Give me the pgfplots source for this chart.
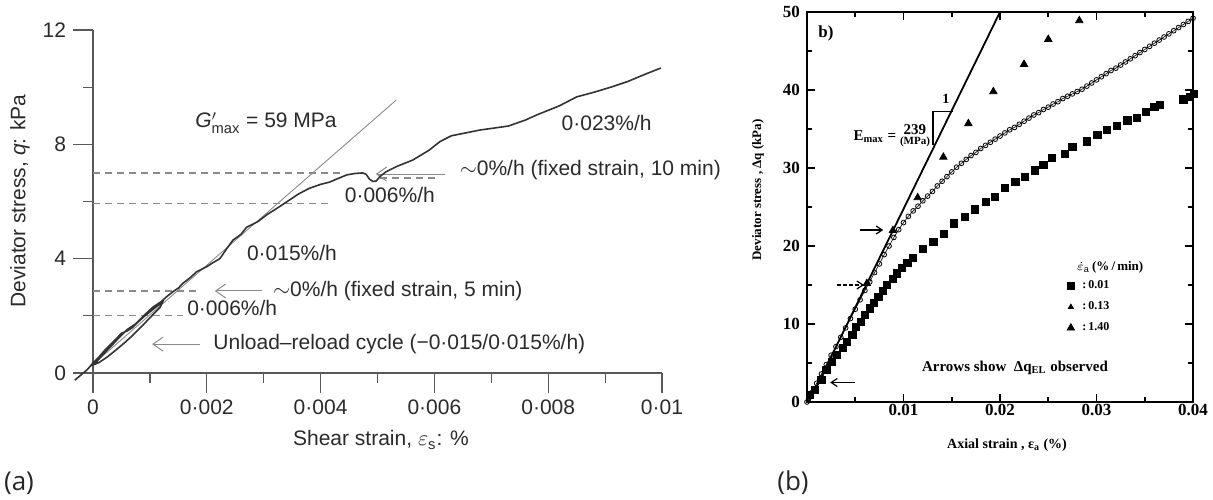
\documentclass[border=0pt]{standalone}
\usepackage{fontspec}
\setmainfont{Liberation Sans}
\newfontfamily\serifb{Liberation Serif}
\newfontfamily\lightf{Open Sans}
\usepackage{amsmath}
\usepackage{pgfplots}
\pgfplotsset{compat=1.18}
\usetikzlibrary{arrows.meta}
\definecolor{acol}{HTML}{333333}
\definecolor{dgray}{HTML}{8A8A8A}
\definecolor{tcol}{HTML}{2A2A2A}
\newcommand{\fa}{\fontsize{10.5}{12}\selectfont}
\newcommand{\fb}[1]{\serifb\bfseries\fontsize{#1}{#1}\selectfont}

\begin{document}
\begin{tikzpicture}
\useasboundingbox (0,0) rectangle (606.5pt,249.5pt);

% ---------------- panel (a)
\begin{axis}[
  at={(46.5pt,63pt)}, anchor=south west,
  width=284.5pt, height=171.5pt, scale only axis,
  xmin=0, xmax=0.01, ymin=0, ymax=12,
  clip=false,
  axis lines=left,
  axis line style={-, draw=black!65, line width=0.6pt},
  tick style={draw=black!65, line width=0.6pt},
  tick align=outside,
  major tick length=10pt, minor tick length=5pt,
  xtick={0,0.002,0.004,0.006,0.008,0.01},
  xticklabels={0,0·002,0·004,0·006,0·008,0·01},
  minor xtick={0.001,0.003,0.005,0.007,0.009},
  ytick={0,4,8,12}, yticklabels={0,4,8,12},
  minor ytick={2,6,10},
  scaled x ticks=false,
  ticklabel style={font=\fa, text=tcol},
]
% reference dashed lines
\addplot[dgray, line width=0.6pt, dash pattern=on 3.5pt off 2.5pt] coordinates {(0,7.0) (0.0044,7.0)};
\addplot[dgray, line width=0.6pt, dash pattern=on 3.5pt off 2.5pt] coordinates {(0,5.93) (0.0042,5.93)};
\addplot[dgray, line width=0.6pt, dash pattern=on 3.5pt off 2.5pt] coordinates {(0.00504,6.82) (0.00604,6.82)};
\addplot[dgray, line width=0.6pt, dash pattern=on 3.5pt off 2.5pt] coordinates {(0,2.87) (0.00188,2.87)};
\addplot[dgray, line width=0.6pt, dash pattern=on 3.5pt off 2.5pt] coordinates {(0,2.0) (0.00158,2.0)};
% G'max line
\addplot[dgray, line width=0.45pt] coordinates {(0,0.3) (0.00533,9.55)};
% arrows
\addplot[dgray, line width=0.5pt, -{Straight Barb[length=5pt,width=7pt]}] coordinates {(0.00619,6.96) (0.00497,6.96)};
\addplot[dgray, line width=0.5pt, -{Straight Barb[length=5pt,width=7pt]}] coordinates {(0.00297,2.87) (0.00214,2.87)};
\addplot[dgray, line width=0.5pt, -{Straight Barb[length=5pt,width=7pt]}] coordinates {(0.00188,1.01) (0.00104,1.01)};
% main test curve
\addplot[acol, line width=0.8pt] coordinates {
(-0.00032,-0.25) (-0.0002,-0.05) (-0.0001,0.12) (0,0.35) (0.0001,0.55) (0.0002,0.78)
(0.0003,0.98) (0.0004,1.18) (0.0005,1.39) (0.0006,1.47) (0.0007,1.6) (0.0008,1.8)
(0.0009,1.98) (0.001,2.14) (0.0011,2.3) (0.00122,2.47)
(0.00118,2.3) (0.00112,2.18) (0.001,1.93) (0.00085,1.62) (0.0007,1.32) (0.00055,1.05)
(0.0004,0.8) (0.00025,0.56) (0.0001,0.36) (0.00002,0.3)
(0.0001,0.48) (0.0002,0.7) (0.0003,0.9) (0.00045,1.22) (0.0006,1.52) (0.00075,1.72)
(0.0009,2.02) (0.00105,2.3) (0.0012,2.5) (0.0013,2.68) (0.00141,2.85) (0.0015,2.97)
(0.00158,3.14) (0.0017,3.32) (0.00182,3.54) (0.0019,3.62) (0.002,3.72) (0.0021,3.85)
(0.00223,4.0) (0.00235,4.35) (0.00246,4.65) (0.0026,4.85) (0.0027,5.1) (0.0029,5.3)
(0.00305,5.53) (0.0032,5.72) (0.0034,5.98) (0.0036,6.25) (0.0038,6.46) (0.004,6.6)
(0.00416,6.68) (0.0043,6.8) (0.00446,6.93) (0.0046,6.98) (0.00474,7.0) (0.0048,6.95)
(0.00486,6.78) (0.00492,6.7) (0.00498,6.72) (0.00504,6.87) (0.00515,7.04) (0.00533,7.22)
(0.00562,7.45) (0.00591,7.8) (0.0061,8.1) (0.0063,8.3) (0.0068,8.5) (0.0073,8.64)
(0.0076,8.85) (0.0078,9.03) (0.0082,9.35) (0.0085,9.66) (0.0088,9.82) (0.0091,10.0)
(0.0094,10.2) (0.0097,10.45) (0.00998,10.67)};
% annotations
\begin{scope}[every node/.style={font=\fa, text=tcol, anchor=west, inner sep=0pt}]
\node at (axis cs:0.00179,8.75) {\textit{G}$'_{\text{max}}$ = 59 MPa};
\node at (axis cs:0.00823,8.75) {0·023\%/h};
\node at (axis cs:0.00644,7.1) {$\sim$0\%/h (fixed strain, 10 min)};
\node at (axis cs:0.00442,6.23) {0·006\%/h};
\node at (axis cs:0.0027,4.2) {0·015\%/h};
\node at (axis cs:0.00316,2.87) {$\sim$0\%/h (fixed strain, 5 min)};
\node at (axis cs:0.00165,2.27) {0·006\%/h};
\node at (axis cs:0.00211,1.01) {Unload–reload cycle (−0·015/0·015\%/h)};
\end{scope}
\end{axis}

% ---------------- panel (b)
\begin{axis}[
  at={(403.5pt,48.5pt)}, anchor=south west,
  width=193pt, height=195pt, scale only axis,
  xmin=0, xmax=0.04, ymin=0, ymax=50,
  clip=false,
  axis line style={line width=1pt},
  tick style={line width=0.8pt, black},
  tick align=inside, xtick pos=both, ytick pos=both,
  major tick length=4pt, minor tick length=2.5pt,
  xtick={0.01,0.02,0.03,0.04}, xticklabels={0.01,0.02,0.03,0.04},
  minor xtick={0.005,0.015,0.025,0.035},
  ytick={0,10,20,30,40,50}, yticklabels={0,10,20,30,40,50},
  minor ytick={5,15,25,35,45},
  scaled x ticks=false,
  ticklabel style={font=\fb{8.5}},
  xticklabel style={inner sep=1pt},
  legend image code/.code={\draw[mark repeat=2,mark phase=2,#1] plot coordinates {(0cm,0cm) (0.1cm,0cm) (0.2cm,0cm)};},
  legend style={at={(axis cs:0.0263,16.4)}, anchor=north west, draw=none, fill=none,
    font=\fb{6}, row sep=3pt, nodes={inner sep=1pt}},
  legend cell align=left,
]
% Emax line and slope triangle
\addplot[black, line width=0.9pt, forget plot] coordinates {(0.0002,0) (0.0200,50)};
\addplot[black, line width=0.6pt, forget plot] coordinates {(0.01306,32.9) (0.01306,37.2) (0.01513,37.2)};
% 0.01 %/min
\addplot[only marks, mark=square*, mark size=1.8pt, black] coordinates {
(0.0003,0.9) (0.0008,1.6) (0.0015,2.8) (0.0020,4.1) (0.0026,5.1) (0.0031,6.0) (0.0037,6.9)
(0.0041,7.7) (0.0047,8.6) (0.0051,9.6) (0.0056,10.3) (0.0060,11.2) (0.0065,12.0)
(0.0069,12.7) (0.0074,13.5) (0.0079,14.2) (0.0083,15.0) (0.0089,15.8) (0.0093,16.5)
(0.0098,17.2) (0.0104,17.8) (0.0110,18.5) (0.0120,19.6) (0.0131,20.5) (0.0142,21.6)
(0.0152,22.9) (0.0164,23.7) (0.0174,24.7) (0.0185,25.7) (0.0195,26.3) (0.0205,27.4)
(0.0216,28.2) (0.0226,28.9) (0.0236,29.7) (0.0245,30.4) (0.0254,31.3) (0.0267,31.8)
(0.0275,32.7) (0.0290,33.4) (0.0301,34.2) (0.0311,34.9) (0.0321,35.4) (0.0332,36.1)
(0.0342,36.4) (0.0351,37.2) (0.0360,37.8) (0.0366,38.1) (0.0390,38.8) (0.0397,39.1)
(0.0401,39.5)};
\addlegendentry{\hspace{3pt}:\,0.01}
% 0.13 %/min
\addplot[black, line width=0.3pt, mark=o, mark size=1.2pt, mark options={line width=0.4pt}, forget plot] coordinates {
(0,0) (0.0005,1.2) (0.0010,2.4) (0.0015,3.6) (0.0020,4.8) (0.0025,6.0) (0.0030,7.1)
(0.0035,8.3) (0.0040,9.5) (0.0045,10.7) (0.0050,11.9) (0.0055,13.1) (0.0060,14.3)
(0.0065,15.4) (0.0070,16.6) (0.0075,17.7) (0.0080,18.9) (0.0085,20.0) (0.0090,21.1)
(0.0095,22.1) (0.0100,23.0) (0.0105,23.8) (0.0110,24.5) (0.0115,25.1) (0.0120,25.8)
(0.0125,26.4) (0.0130,27.0) (0.0135,27.7) (0.0140,28.3) (0.0145,28.9) (0.0150,29.5)
(0.0155,30.1) (0.0160,30.6) (0.0165,31.1) (0.0170,31.6) (0.0175,32.0) (0.0180,32.5)
(0.0185,32.9) (0.0190,33.3) (0.0195,33.7) (0.0200,34.1) (0.0205,34.5) (0.0210,34.9)
(0.0215,35.2) (0.0220,35.6) (0.0225,36.0) (0.0230,36.4) (0.0235,36.8) (0.0240,37.1)
(0.0245,37.5) (0.0250,37.8) (0.0255,38.2) (0.0260,38.5) (0.0265,38.9) (0.0270,39.2)
(0.0275,39.5) (0.0280,39.8) (0.0285,40.1) (0.0290,40.5) (0.0295,40.9) (0.0300,41.3)
(0.0305,41.7) (0.0310,42.1) (0.0315,42.5) (0.0320,42.8) (0.0325,43.2) (0.0330,43.6)
(0.0335,44.0) (0.0340,44.4) (0.0345,44.8) (0.0350,45.2) (0.0355,45.6) (0.0360,46.0)
(0.0365,46.4) (0.0370,46.8) (0.0375,47.2) (0.0380,47.6) (0.0385,48.0) (0.0390,48.4)
(0.0395,48.8) (0.0400,49.2)};
\addlegendimage{only marks, mark=triangle*, mark size=1.4pt, black}
\addlegendentry{\hspace{3pt}:\,0.13}
% 1.40 %/min
\addplot[only marks, mark=triangle*, mark size=2.1pt, black] coordinates {
(0.0062,15.2) (0.0089,22.0) (0.01147,26.2) (0.01413,31.4) (0.01672,35.7) (0.01931,39.8)
(0.02249,43.3) (0.0250,46.5) (0.02822,48.9)};
\addlegendentry{\hspace{3pt}:\,1.40}
% arrows
\addplot[black, line width=0.6pt, -{Straight Barb[length=3pt,width=4pt]}, forget plot] coordinates {(0.0055,22.05) (0.0079,22.05)};
\addplot[black, line width=0.6pt, dash pattern=on 2pt off 1pt, -{Straight Barb[length=3pt,width=4pt]}, forget plot] coordinates {(0.0031,15.0) (0.0059,15.0)};
\addplot[black, line width=0.6pt, -{Straight Barb[length=3pt,width=4pt]}, forget plot] coordinates {(0.0050,2.5) (0.0024,2.5)};
% text
\node[font=\fb{6.5}, inner sep=0pt] at (axis cs:0.0314,17.2) {$\dot{\varepsilon}_{\mathrm{a}}$\,(\%\,/\,min)};
\node[anchor=west, font=\fb{8.5}, inner sep=0pt] at (axis cs:0.00114,47.3) {b)};
\node[anchor=west, font=\fb{7.5}, inner sep=0pt] at (axis cs:0.0048,34.0) {E\textsubscript{max} = \begin{tabular}{@{}c@{}}239\\[-2.5pt]{\fontsize{5.5}{5.5}\selectfont(MPa)}\end{tabular}};
\node[font=\fb{7}, inner sep=0pt] at (axis cs:0.0144,38.8) {1};
\node[font=\fb{7.5}, inner sep=0pt] at (axis cs:0.02155,4.36) {Arrows show \ Δq\textsubscript{EL} observed};
\end{axis}

% axis labels and panel tags
\node[font=\fa, text=tcol] at (190.5pt,29.5pt) {Shear strain, $\varepsilon_{\text{s}}$: \%};
\node[font=\fa, text=tcol, rotate=90] at (10pt,149pt) {Deviator stress, \textit{q}: kPa};
\node[font=\fb{7}] at (503.5pt,27pt) {Axial strain , ε\textsubscript{a} (\%)};
\node[font=\fb{6.5}, rotate=90] at (379pt,154.5pt) {Deviator stress , Δq (kPa)};
\node[font=\lightf\fontsize{13}{13}\selectfont, text=black!85] at (9.5pt,8pt) {(a)};
\node[font=\lightf\fontsize{13}{13}\selectfont, text=black!85] at (396.5pt,8pt) {(b)};
\end{tikzpicture}
\end{document}
